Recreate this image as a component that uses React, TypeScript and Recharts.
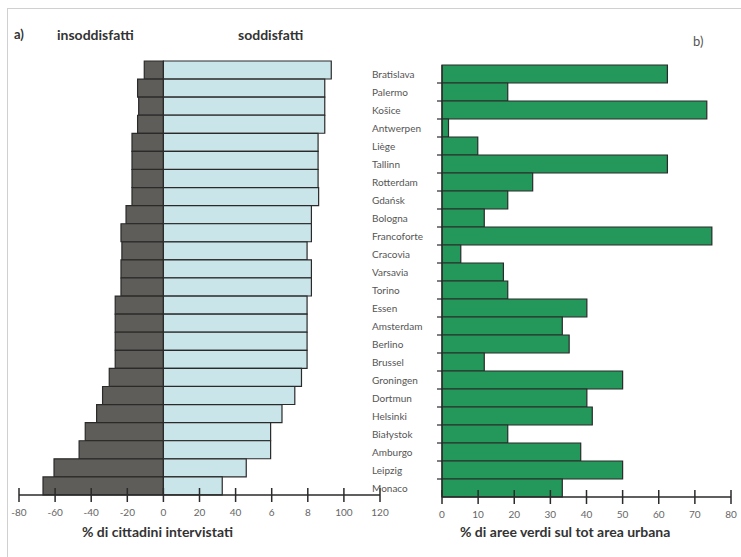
import { BarChart, Bar, XAxis, YAxis } from 'recharts'

const cities = [
    'Bratislava', 'Palermo', 'Košice', 'Antwerpen', 'Liège', 'Tallinn', 'Rotterdam', 'Gdańsk',
    'Bologna', 'Francoforte', 'Cracovia', 'Varsavia', 'Torino', 'Essen', 'Amsterdam', 'Berlino',
    'Brussel', 'Groningen', 'Dortmun', 'Helsinki', 'Białystok', 'Amburgo', 'Leipzig', 'Monaco',
]

// % insoddisfatti (negative side) and soddisfatti, panel a)
const insoddisfatti = [
    -10.6, -14.3, -13.7, -14.3, -17.4, -17.4, -17.4, -17.4, -20.7, -23.5, -23, -23.5,
    -23.5, -26.7, -26.7, -26.7, -26.7, -30, -33.7, -37, -43.3, -46.7, -60.6, -66.7,
]
const soddisfatti = [
    93, 89.4, 89.4, 89.4, 85.7, 85.7, 85.7, 86, 82, 82, 79.6, 82,
    82, 79.6, 79.6, 79.6, 79.6, 76.5, 72.8, 65.7, 59.4, 59.4, 45.9, 32.6,
]

// % aree verdi, panel b)
const areeVerdi = [
    62.4, 18.2, 73.3, 1.8, 9.9, 62.4, 25.1, 18.2, 11.7, 74.7, 5.2, 17,
    18.2, 40.1, 33.3, 35.2, 11.7, 50, 40.1, 41.6, 18.2, 38.4, 50, 33.3,
]

const leftTicks = [-80, -60, -40, -20, 0, 20, 40, 60, 80, 100, 120]
const leftTickLabels = ['-80', '-60', '-40', '-20', '0', '20', '40', '6', '8', '100', '120']
const rightTicks = [0, 10, 20, 30, 40, 50, 60, 70, 80]

const leftData = cities.map((city, i) => ({ city, neg: insoddisfatti[i], pos: soddisfatti[i] }))
const rightData = cities.map((city, i) => ({ city, value: areeVerdi[i] }))

const FONT = 'Lato, "Open Sans", sans-serif'
const LINE = '#2a2a2a'

const CrossTick = ({ x, y, payload, labels }: any) => {
    const label = labels ? labels[leftTicks.indexOf(payload.value)] : String(payload.value)
    return (
        <g>
            <line x1={x} x2={x} y1={y - 7} y2={y + 7} stroke={LINE} strokeWidth={1.5} />
            <text x={x} y={y + 21} textAnchor="middle" fontSize={10} fill="#666" fontFamily={FONT}>
                {label}
            </text>
        </g>
    )
}

const CityTick = ({ x, y, payload, index }: any) => {
    const half = payload.offset ? payload.offset : 9
    return (
        <g>
            {index < cities.length - 1 && (
                <line x1={x - 5} x2={x} y1={y + half} y2={y + half} stroke={LINE} strokeWidth={1.2} />
            )}
            <text x={x - 70} y={y + 3.5} textAnchor="start" fontSize={10} fill="#555" fontFamily={FONT}>
                {payload.value}
            </text>
        </g>
    )
}

const label = (text: string, left: number, top: number, bold = true, size = 14, color = '#333') => (
    <div style={{
        position: 'absolute', left, top, fontFamily: FONT, fontSize: size,
        fontWeight: bold ? 700 : 400, color, whiteSpace: 'nowrap', lineHeight: 1,
    }}>
        {text}
    </div>
)

export default function App() {
    return (
        <div style={{ position: 'absolute', left: 0, top: 0, width: 741, height: 557, background: '#fff' }}>
            <div style={{
                position: 'absolute', left: 7, top: 8, width: 734, height: 549,
                borderLeft: '1px solid #d0d0d0', borderTop: '1px solid #d0d0d0',
            }} />

            <div style={{ position: 'absolute', left: 0, top: 0 }}>
                <BarChart
                    width={400}
                    height={557}
                    data={leftData}
                    layout="vertical"
                    stackOffset="sign"
                    barCategoryGap={0}
                    margin={{ top: 61, right: 20, bottom: 32, left: 19 }}
                >
                    <XAxis
                        type="number"
                        domain={[-80, 120]}
                        ticks={leftTicks}
                        interval={0}
                        height={30}
                        tickSize={0}
                        tickMargin={0}
                        tickLine={false}
                        axisLine={{ stroke: LINE, strokeWidth: 1.5 }}
                        tick={<CrossTick labels={leftTickLabels} />}
                    />
                    <YAxis type="category" dataKey="city" hide />
                    <Bar dataKey="neg" stackId="a" fill="#5e5d59" stroke={LINE} strokeWidth={1.2} isAnimationActive={false} />
                    <Bar dataKey="pos" stackId="a" fill="#cae5e9" stroke={LINE} strokeWidth={1.2} isAnimationActive={false} />
                </BarChart>
            </div>

            <div style={{ position: 'absolute', left: 0, top: 0 }}>
                <BarChart
                    width={741}
                    height={557}
                    data={rightData}
                    layout="vertical"
                    barCategoryGap={0}
                    margin={{ top: 65, right: 10, bottom: 30, left: 372 }}
                >
                    <XAxis
                        type="number"
                        domain={[0, 80]}
                        ticks={rightTicks}
                        interval={0}
                        height={30}
                        tickSize={0}
                        tickMargin={0}
                        tickLine={false}
                        axisLine={{ stroke: LINE, strokeWidth: 1.5 }}
                        tick={<CrossTick />}
                    />
                    <YAxis
                        type="category"
                        dataKey="city"
                        width={70}
                        interval={0}
                        tickSize={0}
                        tickMargin={0}
                        tickLine={false}
                        axisLine={{ stroke: LINE, strokeWidth: 1.2 }}
                        tick={<CityTick />}
                    />
                    <Bar dataKey="value" fill="#23985a" stroke={LINE} strokeWidth={1.2} isAnimationActive={false} />
                </BarChart>
            </div>

            {label('a)', 14, 28, true, 13)}
            {label('insoddisfatti', 57, 28, true, 14)}
            {label('soddisfatti', 238, 28, true, 14)}
            {label('b)', 693, 35, false, 13, '#555')}
            {label('% di cittadini intervistati', 82, 525, true, 14)}
            {label('% di aree verdi sul tot area urbana', 460, 525, true, 14)}
        </div>
    )
}
